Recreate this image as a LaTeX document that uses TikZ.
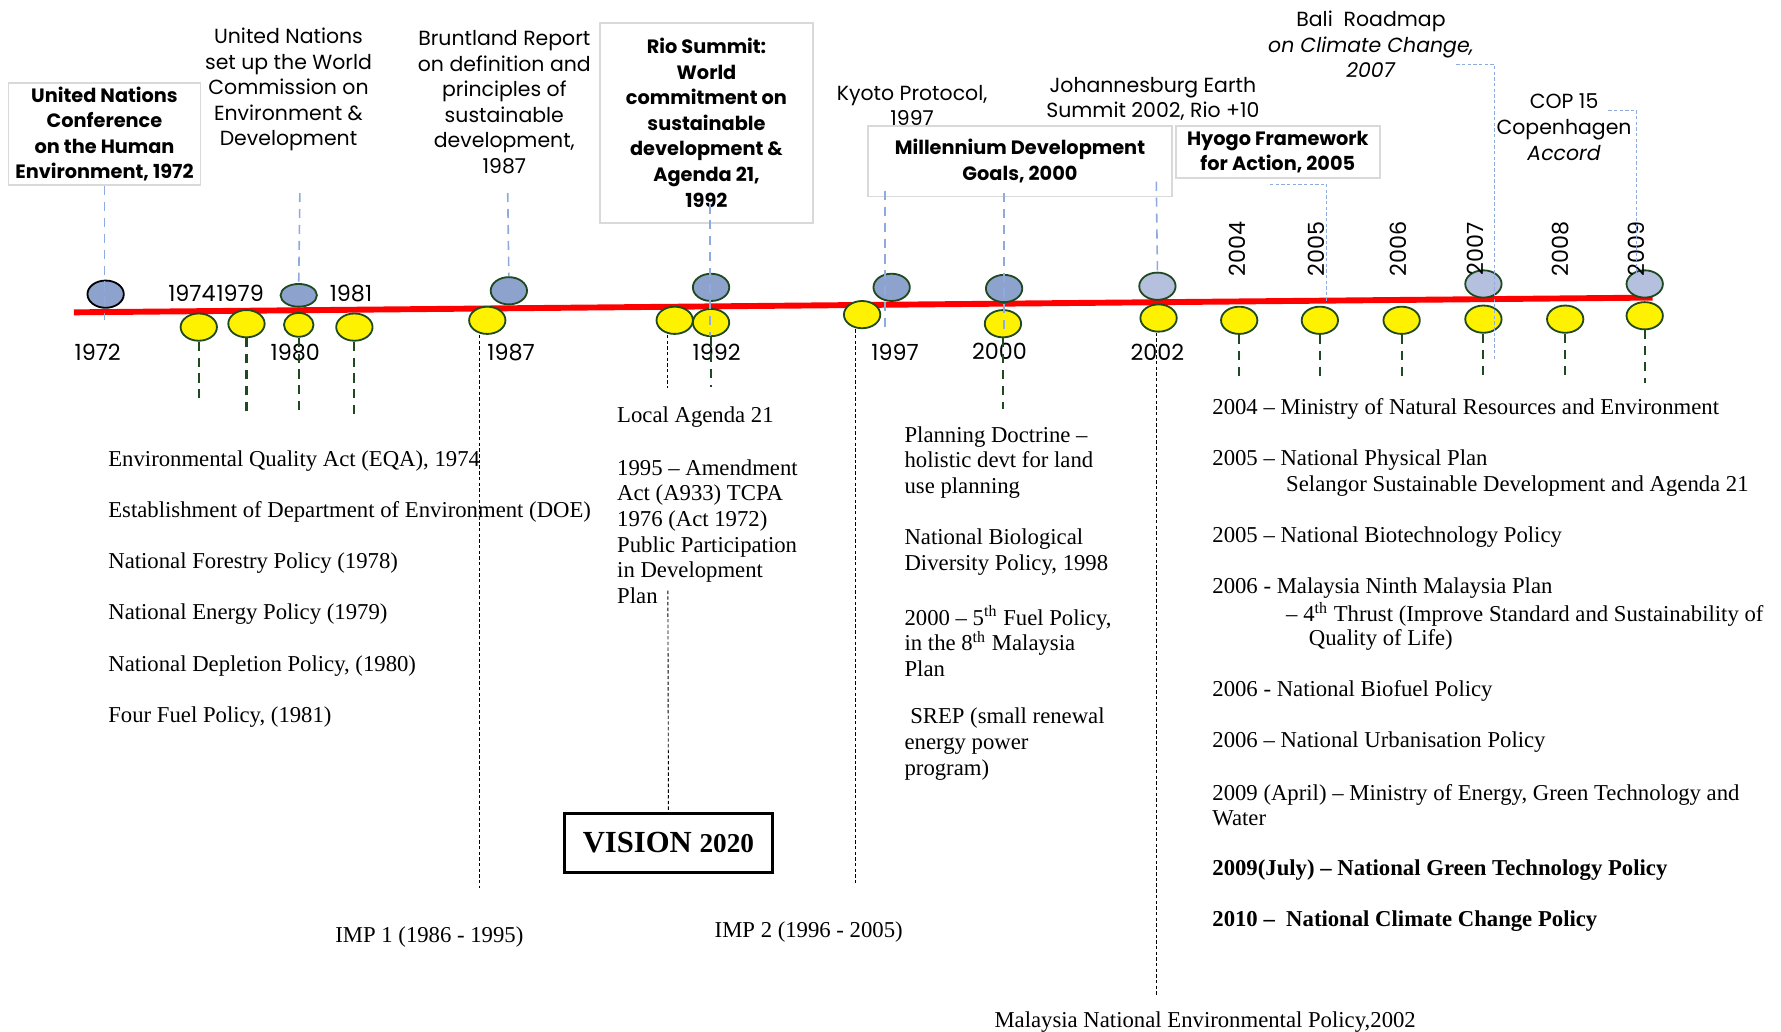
\documentclass[tikz,border=0pt]{standalone}
\usepackage{fontspec}
\setmainfont{Liberation Serif}
\setsansfont{Poppins}
\usetikzlibrary{shapes.geometric, positioning}

\definecolor{dotblue}{HTML}{8EA2CE}
\definecolor{dotpale}{HTML}{B4C0DE}
\definecolor{rimgreen}{HTML}{1F4A1F}
\definecolor{linkblue}{HTML}{8FAADC}
\definecolor{boxgray}{HTML}{D9D9D9}

\begin{document}
\begin{tikzpicture}[x=0.5pt, y=-0.5pt]
\tikzstyle{bluedot} = [ellipse, draw=rimgreen, line width=0.8pt, fill=dotblue, minimum width=16pt, minimum height=12pt, inner sep=0]
\tikzstyle{paledot} = [bluedot, fill=dotpale]
\tikzstyle{yellowdot} = [ellipse, draw=rimgreen, line width=0.8pt, fill=yellow, minimum width=16pt, minimum height=12pt, inner sep=0]
\tikzstyle{toplabel} = [font=\sffamily\fontsize{9}{11.25}\selectfont, align=center, inner sep=0]
\tikzstyle{topbox} = [rectangle, draw=boxgray, line width=0.8pt, fill=white, font=\sffamily\bfseries\fontsize{8.5}{11.25}\selectfont, align=center, inner sep=0]
\tikzstyle{yearlabel} = [font=\sffamily\fontsize{9.8}{12}\selectfont, inner sep=0]
\tikzstyle{policy} = [font=\fontsize{10}{11.3}\selectfont, align=left, inner sep=0, anchor=north west, yshift=-1.5pt]
\tikzstyle{bluelink} = [linkblue, line width=0.7pt, dash pattern=on 4pt off 3pt]
\tikzstyle{thinlink} = [linkblue, line width=0.4pt, dash pattern=on 1.5pt off 1pt]
\tikzstyle{greenlink} = [rimgreen, line width=0.9pt, dash pattern=on 4pt off 3pt]
\tikzstyle{blacklink} = [black, line width=0.4pt, dash pattern=on 1.5pt off 1pt]

\useasboundingbox (0,0) rectangle (1568,908);

% time line
\coordinate (tstart) at (65,275);
\coordinate (tend) at (1455,262);
\draw [red, line width=2.6pt] (tstart) -- (tend);

% top labels
\node (box72) [topbox, minimum width=84.5pt, minimum height=45pt] at (92,118) {United Nations\\Conference\\on the Human\\Environment, 1972};
\node (wced) [toplabel] at (254,79) {United Nations\\set up the World\\Commission on\\Environment \&\\Development};
\node (brunt) [toplabel] at (444,90) {Bruntland Report\\on definition and\\principles of\\sustainable\\development,\\1987};
\node (rio) [topbox, minimum width=93.5pt, minimum height=88pt] at (622,108) {Rio Summit:\\World\\commitment on\\sustainable\\development \&\\Agenda 21,\\1992};
\node (kyoto) [toplabel] at (803,93) {Kyoto Protocol,\\1997};
\node (mdg) [topbox, minimum width=133.5pt, minimum height=31pt] at (898,142) {Millennium Development\\Goals, 2000};
\node (joburg) [toplabel] at (1015,87) {Johannesburg Earth\\Summit 2002, Rio +10};
\node (hyogo) [topbox, minimum width=90pt, minimum height=23pt] at (1125,134) {Hyogo Framework\\for Action, 2005};
\node (bali) [toplabel] at (1207,39) {Bali\ \ Roadmap\\\textit{on Climate Change,}\\\textit{2007}};
\node (cop) [toplabel] at (1377,112) {COP 15\\Copenhagen\\\textit{Accord}};

% dots on the line
\node (b72) [bluedot, draw=black] at (93,259) {};
\node (b80) [bluedot, minimum height=10pt] at (263,260) {};
\node (b87) [bluedot] at (448,256) {};
\node (b92) [bluedot] at (626,253) {};
\node (b97) [bluedot] at (785,253) {};
\node (b00) [bluedot] at (884,254) {};
\node (b02) [paledot] at (1019,252) {};
\node (b07) [paledot] at (1306,250) {};
\node (b09) [paledot] at (1448,250) {};

\node (y74) [yellowdot] at (175,288) {};
\node (y79) [yellowdot] at (217,285) {};
\node (y80) [yellowdot, minimum width=13pt, minimum height=10.5pt] at (263,286) {};
\node (y81) [yellowdot] at (312,288) {};
\node (y87) [yellowdot] at (429,282) {};
\node (y92a) [yellowdot] at (594,282) {};
\node (y92b) [yellowdot] at (626,284) {};
\node (y97) [yellowdot] at (759,277) {};
\node (y00) [yellowdot] at (883,285) {};
\node (y02) [yellowdot] at (1020,280) {};
\node (y04) [yellowdot] at (1091,282) {};
\node (y05) [yellowdot] at (1162,282) {};
\node (y06) [yellowdot] at (1234,282) {};
\node (y07) [yellowdot] at (1306,281) {};
\node (y08) [yellowdot] at (1378,281) {};
\node (y09) [yellowdot] at (1448,278) {};

% years
\node (l72) [yearlabel] at (86,310) {1972};
\node (l74) [yearlabel] at (169,258) {1974};
\node (l79) [yearlabel, right=0pt of l74] {1979};
\node (l80) [yearlabel] at (260,310) {1980};
\node (l81) [yearlabel] at (309,258) {1981};
\node (l87) [yearlabel] at (450,310) {1987};
\node (l92) [yearlabel] at (631,310) {1992};
\node (l97) [yearlabel] at (788,310) {1997};
\node (l00) [yearlabel] at (880,309) {2000};
\node (l02) [yearlabel] at (1019,310) {2002};
\foreach \yr/\px in {2004/1089, 2005/1159, 2006/1231, 2007/1299, 2008/1374, 2009/1441}
  \node (l\yr) [yearlabel, rotate=90] at (\px,219) {\yr};

% links from the top labels
\coordinate (f72) at (92,282);
\coordinate (t80) at (264,170);
\coordinate (t87) at (447,170);
\coordinate (t92) at (625,180);
\coordinate (f92) at (625,296);
\coordinate (t97) at (779,168);
\coordinate (f97) at (779,290);
\coordinate (t00) at (884,170);
\coordinate (f00) at (884,292);
\coordinate (t02) at (1018,160);
\draw [bluelink] (box72.south) -- (f72);
\draw [bluelink] (t80) -- (b80.north);
\draw [bluelink] (t87) -- (b87.north);
\draw [bluelink] (t92) -- (f92);
\draw [bluelink] (t97) -- (f97);
\draw [bluelink] (t00) -- (f00);
\draw [bluelink] (t02) -- (b02.north);

\coordinate (h1) at (1118,162);
\coordinate (h2) at (1168,268);
\coordinate (bl1) at (1282,57);
\coordinate (bl2) at (1316,318);
\coordinate (cp1) at (1416,97);
\coordinate (cp2) at (1441,240);
\draw [thinlink] (h1) -| (h2);
\draw [thinlink] (bl1) -| (bl2);
\draw [thinlink] (cp1) -| (cp2);

% links down to the policies
\foreach \n/\l in {y74/52, y79/68, y80/68, y81/64, y92b/44, y00/62, y04/38, y05/38, y06/38, y07/38, y08/38, y09/46}
  \draw [greenlink] (\n.south) -- ++(0,\l) coordinate (\n-end);

\coordinate (d87) at (422,782);
\coordinate (d92) at (588,342);
\coordinate (d97) at (753,778);
\coordinate (d02) at (1018,876);
\draw [blacklink] (y87.south -| d87) -- (d87);
\draw [blacklink] (y92a.south -| d92) -- (d92);
\draw [blacklink] (y97.south -| d97) -- (d97);
\draw [blacklink] (y02.south -| d02) -- (d02);

% policies
\node (eqa) [policy, anchor=west] at (95,403) {Environmental Quality Act (EQA), 1974};
\node (doe) [policy, anchor=west] at (95,448) {Establishment of Department of Environment (DOE)};
\node (nfp) [policy, anchor=west] at (95,493) {National Forestry Policy (1978)};
\node (nep) [policy, anchor=west] at (95,538) {National Energy Policy (1979)};
\node (ndp) [policy, anchor=west] at (95,583) {National Depletion Policy, (1980)};
\node (ffp) [policy, anchor=west] at (95,628) {Four Fuel Policy, (1981)};

\node (la21) [policy, anchor=west] at (543,364) {Local Agenda 21};
\node (tcpa) [policy] at (543,401) {1995 – Amendment\\Act (A933) TCPA\\1976 (Act 1972)\\Public Participation\\in Development\\Plan};

\node (doct) [policy] at (796,372) {Planning Doctrine –\\holistic devt for land\\use planning};
\node (bio) [policy] at (796,462) {National Biological\\Diversity Policy, 1998};
\node (fifth) [policy] at (796,530) {2000 – 5\textsuperscript{th} Fuel Policy,\\in the 8\textsuperscript{th} Malaysia\\Plan};
\node (srep) [policy] at (796,620) {\ SREP (small renewal\\energy power\\program)};

\node (nre) [policy, anchor=west] at (1067,357) {2004 – Ministry of Natural Resources and Environment};
\node (npp) [policy, anchor=west] at (1067,402) {2005 – National Physical Plan};
\node (sel) [policy, anchor=west] at (1132,425) {Selangor Sustainable Development and Agenda 21};
\node (nbp) [policy, anchor=west] at (1067,470) {2005 – National Biotechnology Policy};
\node (ninth) [policy, anchor=west] at (1067,515) {2006 - Malaysia Ninth Malaysia Plan};
\node (thrust) [policy, anchor=west] at (1132,538) {– 4\textsuperscript{th} Thrust (Improve Standard and Sustainability of};
\node (qol) [policy, anchor=west] at (1152,560) {Quality of Life)};
\node (biof) [policy, anchor=west] at (1067,605) {2006 - National Biofuel Policy};
\node (urb) [policy, anchor=west] at (1067,650) {2006 – National Urbanisation Policy};
\node (kettha) [policy] at (1067,687) {2009 (April) – Ministry of Energy, Green Technology and\\Water};
\node (ngtp) [policy, anchor=west, font=\bfseries\fontsize{10}{11.3}\selectfont] at (1067,763) {2009(July) – National Green Technology Policy};
\node (nccp) [policy, anchor=west, font=\bfseries\fontsize{10}{11.3}\selectfont] at (1067,808) {2010 –\ \ National Climate Change Policy};

% vision and plans
\node (vision) [rectangle, draw=black, line width=1.2pt, minimum width=91.5pt, minimum height=26pt, font=\bfseries\fontsize{13.5}{15}\selectfont] at (588.5,742) {VISION {\fontsize{12}{14}\selectfont 2020}};
\coordinate (v1) at (588,520);
\draw [blacklink] (v1) -- (vision.north);

\node (imp1) [policy, anchor=center] at (378,822) {IMP 1 (1986 - 1995)};
\node (imp2) [policy, anchor=center] at (712,818) {IMP 2 (1996 - 2005)};
\node (nep02) [policy, anchor=center] at (1061,897) {Malaysia National Environmental Policy,2002};

\end{tikzpicture}
\end{document}
